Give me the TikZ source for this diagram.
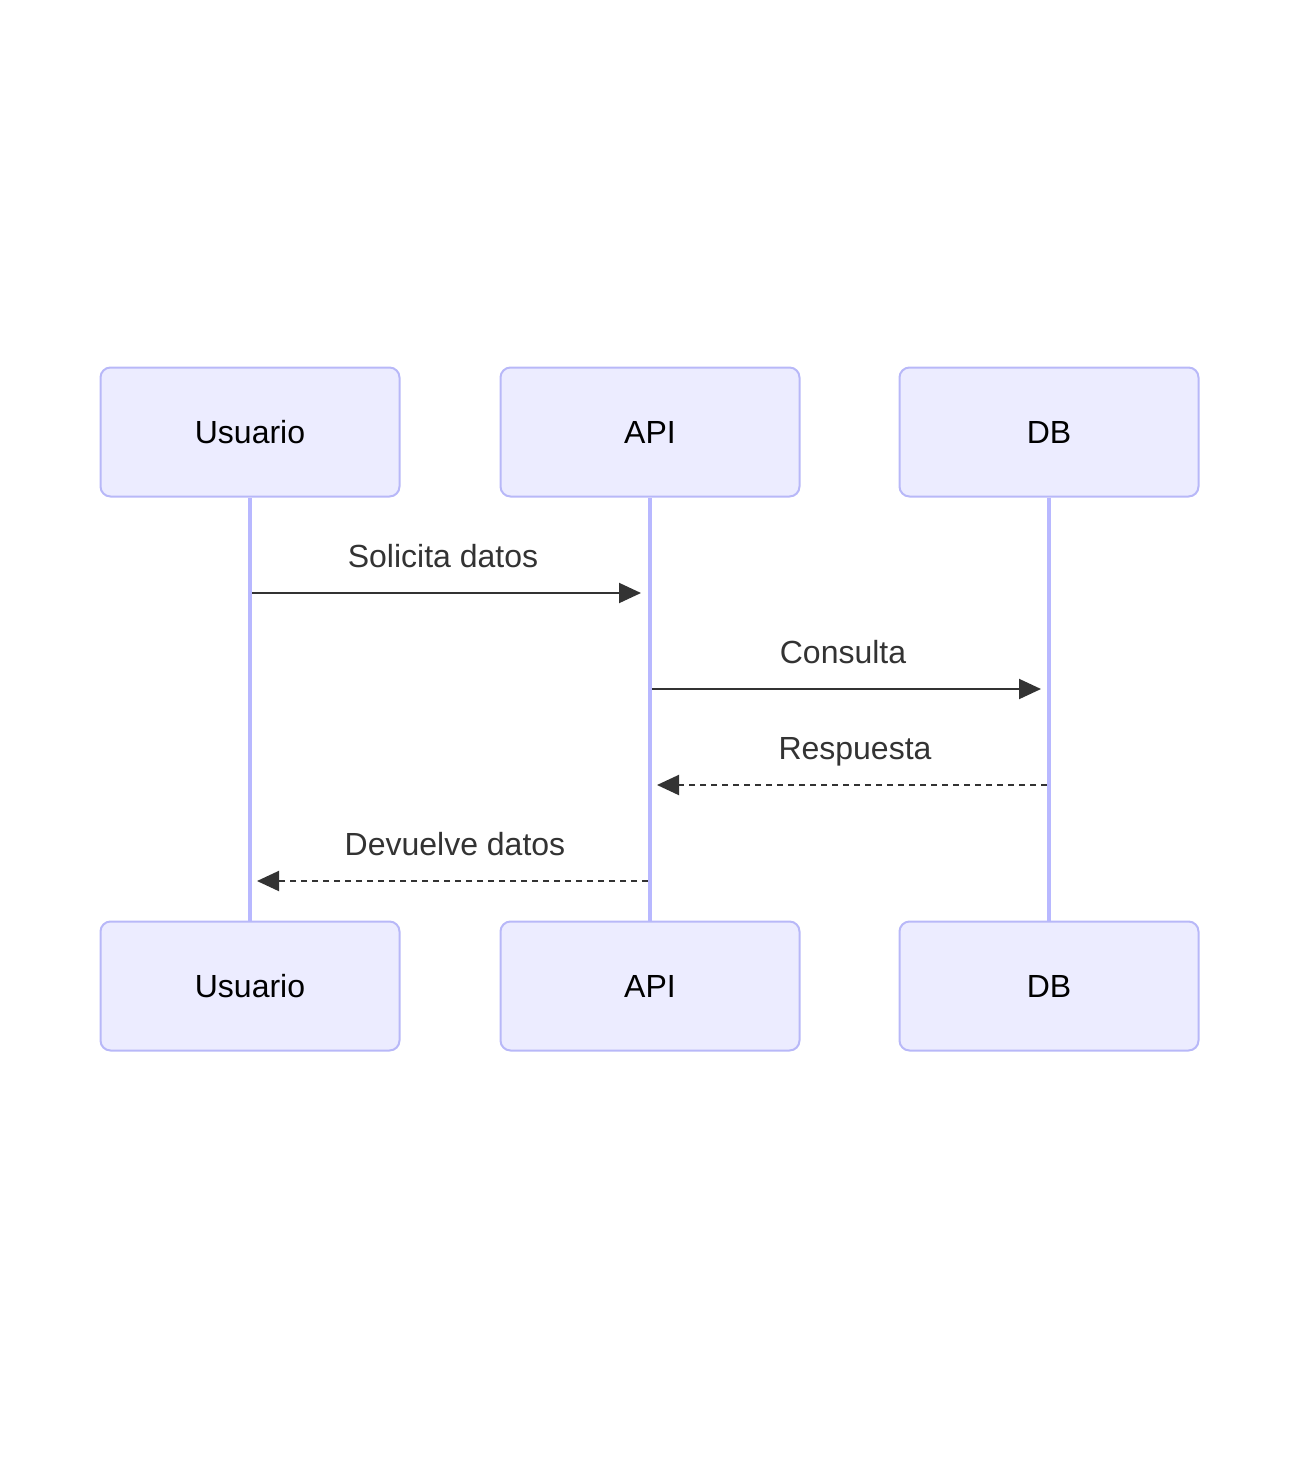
\documentclass[tikz,border=0pt]{standalone}
\usepackage{fontspec}
\setmainfont{Liberation Sans}
\usetikzlibrary{arrows.meta}
\definecolor{actfill}{HTML}{ECECFF}
\definecolor{actline}{HTML}{B8B8F8}
\definecolor{lifeln}{HTML}{B8B8FF}
\definecolor{msgc}{HTML}{333333}
\begin{document}
\begin{tikzpicture}[x=1pt,y=-1pt,
  actor/.style={draw=actline,line width=2pt,fill=actfill,rounded corners=10pt,
    minimum width=299pt,minimum height=129pt,inner sep=0pt,
    font=\fontsize{32}{38}\selectfont,text=black},
  life/.style={draw=lifeln,line width=3.2pt},
  msg/.style={draw=msgc,line width=2pt,-{Triangle[length=22pt,width=20pt]}},
  reply/.style={msg,dash pattern=on 6pt off 5pt},
  lbl/.style={font=\fontsize{32}{38}\selectfont,text=msgc,inner sep=0pt,anchor=base}]
\useasboundingbox (0,0) rectangle (1299,1480);
\node[actor] (u1) at (250,432) {Usuario};
\node[actor] (a1) at (650,432) {API};
\node[actor] (d1) at (1049,432) {DB};
\node[actor] (u2) at (250,986) {Usuario};
\node[actor] (a2) at (650,986) {API};
\node[actor] (d2) at (1049,986) {DB};
\draw[life] (u1.south) -- (u2.north);
\draw[life] (a1.south) -- (a2.north);
\draw[life] (d1.south) -- (d2.north);
\coordinate (m1s) at (252,593); \coordinate (m1e) at (641,593);
\coordinate (m2s) at (652,689); \coordinate (m2e) at (1041,689);
\coordinate (m3s) at (1047,785); \coordinate (m3e) at (657,785);
\coordinate (m4s) at (648,881); \coordinate (m4e) at (257,881);
\draw[msg] (m1s) -- (m1e);
\draw[msg] (m2s) -- (m2e);
\draw[reply] (m3s) -- (m3e);
\draw[reply] (m4s) -- (m4e);
\node[lbl] (l1) at (443,567) {Solicita datos};
\node[lbl] (l2) at (843,663) {Consulta};
\node[lbl] (l3) at (855,759) {Respuesta};
\node[lbl] (l4) at (455,855) {Devuelve datos};
\end{tikzpicture}
\end{document}
